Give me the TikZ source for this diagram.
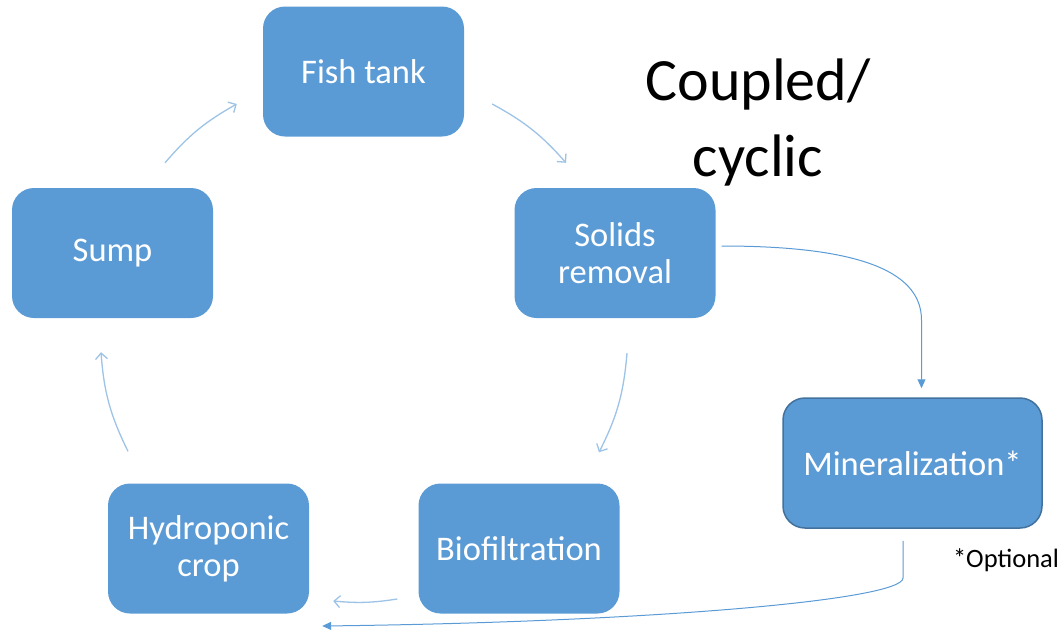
\documentclass[tikz,border=0pt]{standalone}
\usepackage{fontspec}
\setmainfont{Carlito}
\usetikzlibrary{arrows.meta}
\definecolor{boxblue}{HTML}{5B9BD5}
\definecolor{boxedge}{HTML}{41719C}
\definecolor{cyclight}{HTML}{9DC3E6}
\tikzset{
  stagebox/.style={rectangle, rounded corners=22pt, fill=boxblue, draw=none,
    text=white, inner sep=0pt, minimum width=201pt, minimum height=130pt,
    align=center, font=\fontsize{34.5}{37}\selectfont},
  cycarrow/.style={draw=cyclight, line width=1.3pt,
    -{Straight Barb[length=6pt,width=12pt,line width=1.3pt]}},
  minarrow/.style={draw=boxblue, line width=1pt,
    -{Triangle[length=9pt,width=8pt]}},
}
\begin{document}
\begin{tikzpicture}[x=1pt,y=-1pt]
\useasboundingbox (0,0) rectangle (1061,630);
\node[stagebox] (fish) at (363.5,71.5) {Fish tank};
\node[stagebox] (sump) at (112.5,253) {Sump};
\node[stagebox] (solids) at (615,253) {Solids\\removal};
\node[stagebox] (hydro) at (208.5,548.5) {Hydroponic\\crop};
\node[stagebox] (bio) at (519,548.5) {Biofiltration};
\node[stagebox, minimum width=259pt, draw=boxedge, line width=1.5pt] (mineral) at (912.5,463) {Mineralization*};
\node[anchor=base, align=center, font=\fontsize{60}{76}\selectfont] (title) at (758,176) {Coupled/\\cyclic};
\node[anchor=base, font=\fontsize{26.5}{30}\selectfont] (opt) at (1006,567) {*Optional};

\draw[cycarrow] ([shift={(52.5,-25)}]sump.north) to[bend left=10] ([shift={(-26,32.5)}]fish.west);
\draw[cycarrow] ([shift={(28,32.5)}]fish.east) to[bend left=10] ([shift={(-49,-25)}]solids.north);
\draw[cycarrow] ([shift={(12,35)}]solids.south) to[bend left=11] ([shift={(80,-31)}]bio.north);
\draw[cycarrow] ([shift={(-21,50.5)}]bio.west) to[bend left=7] ([shift={(24,52.5)}]hydro.east);
\draw[cycarrow] ([shift={(-80.5,-32)}]hydro.north) to[bend left=11] ([shift={(-11.5,34)}]sump.south);

\draw[minarrow] ([shift={(6,-7)}]solids.east) .. controls (850,246) and (921.5,268) .. (921.5,320) -- ([shift={(9,-9)}]mineral.north);
\draw[minarrow] ([shift={(-9.5,12)}]mineral.south) -- (903,578) .. controls (903,600) and (650,622) .. ([shift={(13,77.5)}]hydro.east);
\end{tikzpicture}
\end{document}
